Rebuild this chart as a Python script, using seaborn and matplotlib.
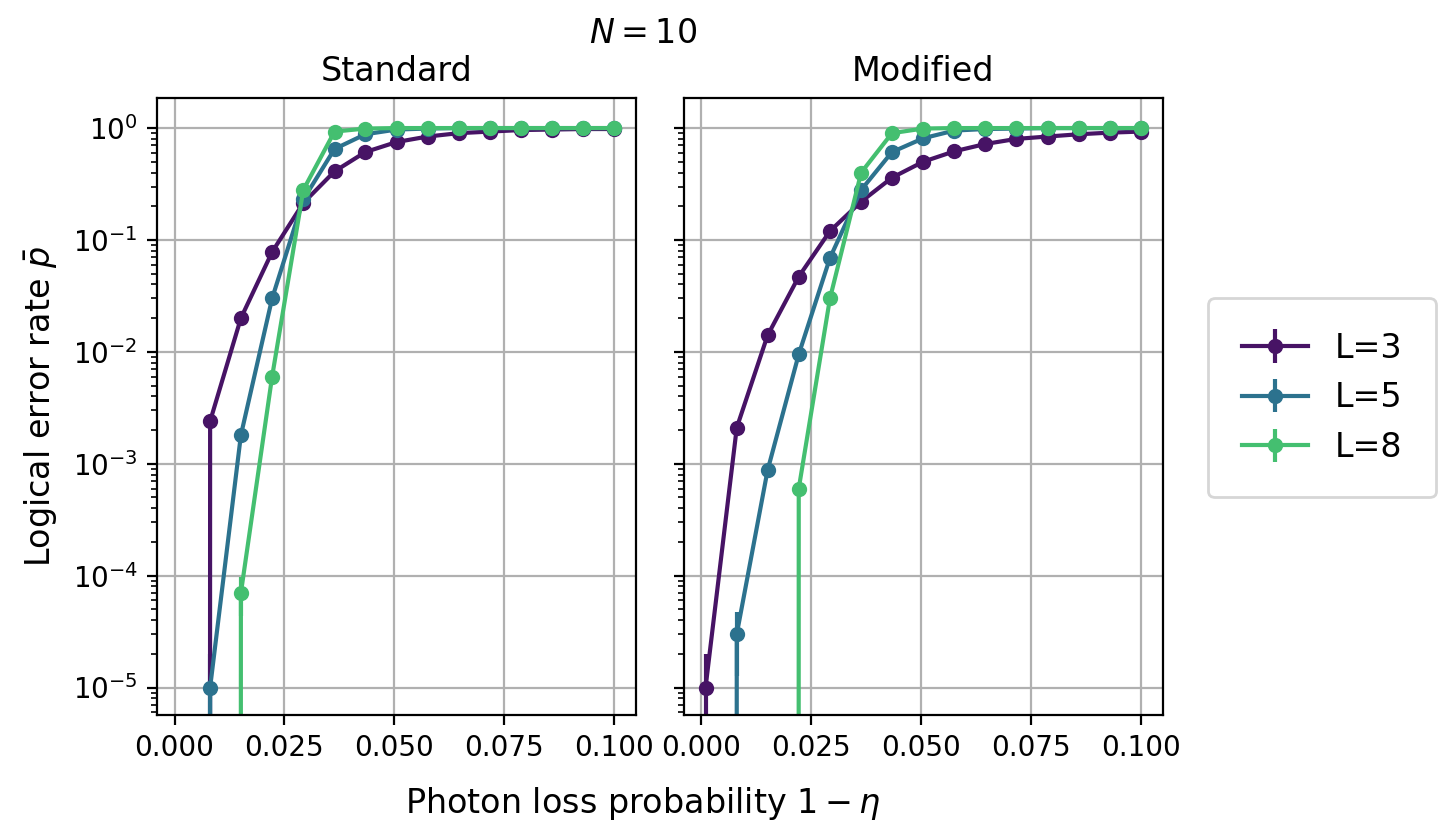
import numpy as np
import matplotlib
matplotlib.use("Agg")
import matplotlib.pyplot as plt
import seaborn as sns

# photon loss probabilities (x axis)
p_loss = [0.001, 0.0081, 0.0151, 0.0222, 0.0293, 0.0364, 0.0434, 0.0505,
          0.0576, 0.0646, 0.0717, 0.0788, 0.0859, 0.0929, 0.1]

# logical error rates, standard decoder
std_L3 = [0, 2.4e-3, 2.0e-2, 7.8e-2, 0.214, 0.41, 0.61, 0.75, 0.84, 0.90, 0.93, 0.96, 0.97, 0.98, 0.98]
std_L5 = [0, 1.0e-5, 1.8e-3, 3.0e-2, 0.23, 0.65, 0.88, 0.97, 0.99, 1.0, 1.0, 1.0, 1.0, 1.0, 1.0]
std_L8 = [0, 0, 7.0e-5, 6.0e-3, 0.28, 0.93, 0.99, 1.0, 1.0, 1.0, 1.0, 1.0, 1.0, 1.0, 1.0]

# logical error rates, modified decoder
mod_L3 = [1.0e-5, 2.1e-3, 1.4e-2, 4.7e-2, 0.12, 0.22, 0.36, 0.50, 0.62, 0.72, 0.80, 0.84, 0.88, 0.91, 0.93]
mod_L5 = [0, 3.0e-5, 8.7e-4, 9.5e-3, 0.069, 0.28, 0.61, 0.81, 0.95, 0.98, 0.99, 1.0, 1.0, 1.0, 1.0]
mod_L8 = [0, 0, 0, 6.0e-4, 3.0e-2, 0.40, 0.90, 0.99, 1.0, 1.0, 1.0, 1.0, 1.0, 1.0, 1.0]

sizes = [3, 5, 8]
panel_titles = ["Standard", "Modified"]
n_shots = 1e5

panels = [[std_L3, std_L5, std_L8], [mod_L3, mod_L5, mod_L8]]

cmap = sns.color_palette("viridis", as_cmap=True)
colors = [cmap(v) for v in [0.05, 0.375, 0.7]]

fig, axes = plt.subplots(1, 2, figsize=(7.275, 4.195), dpi=200, sharey=True)
fig.subplots_adjust(left=0.108, right=0.799, top=0.883, bottom=0.148, wspace=0.1)

for ax, title, series in zip(axes, panel_titles, panels):
    ax.set_yscale("log")
    for L, vals, c in zip(sizes, series, colors):
        p = np.array(vals, dtype=float)
        # binomial standard error
        err = np.sqrt(p * (1 - p) / n_shots)
        ax.errorbar(p_loss, p, yerr=err, marker="o", markersize=4.5,
                    linewidth=1.5, color=c, label=f"L={L}")
    ax.set_title(title, fontsize=12)
    ax.grid(True)
    ax.set_ylim(5.7e-6, 1.85)
    ax.tick_params(labelsize=10)

fig.suptitle("$N=10$", fontsize=12, x=0.442)
fig.supxlabel(r"Photon loss probability $1-\eta$", fontsize=12, x=0.442, y=0.02)
fig.supylabel(r"Logical error rate $\bar{p}$", fontsize=12, x=0.015, y=0.516)

handles, labels = axes[0].get_legend_handles_labels()
fig.legend(handles, labels, loc="center left", bbox_to_anchor=(0.819, 0.526),
           fontsize=12, borderpad=1.0)

fig.savefig("out.png", dpi=200)
